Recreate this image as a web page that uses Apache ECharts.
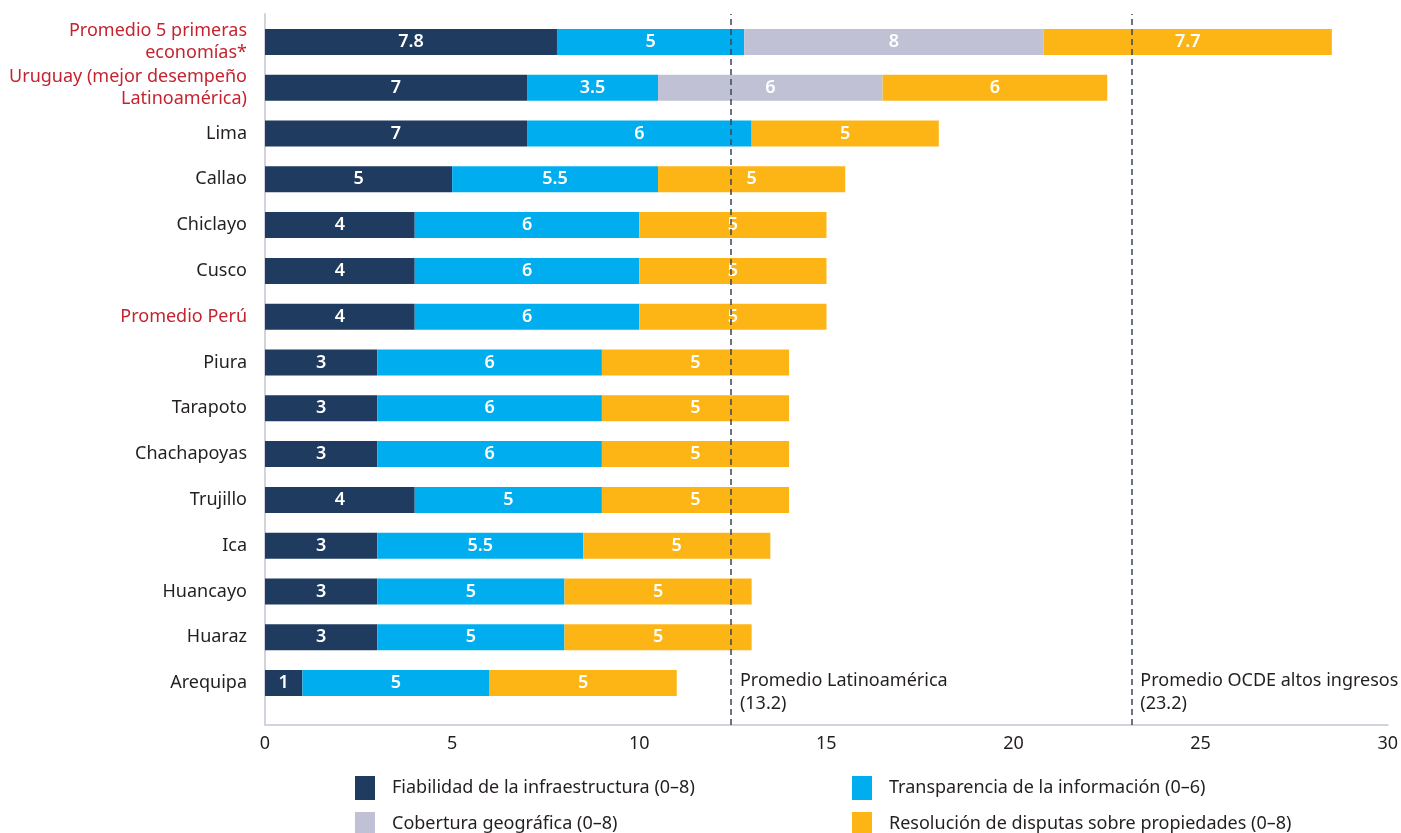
<!DOCTYPE html>
<html lang="es">
<head>
    <meta charset="UTF-8">
    <title>Registro de propiedades</title>
    <script src="https://cdn.jsdelivr.net/npm/echarts@6/dist/echarts.min.js"></script>
</head>
<style type="text/css">
    html,body,#chart{
        width: 100%;
        height: 100%;
        margin: 0;
        padding: 0;
        background: #fff;
    }
</style>
<body>
<div id="chart"></div>
<script>
    // categorias (de arriba hacia abajo)
    var cities = ['Promedio 5 primeras\neconomías*', 'Uruguay (mejor desempeño\nLatinoamérica)', 'Lima', 'Callao',
        'Chiclayo', 'Cusco', 'Promedio Perú', 'Piura', 'Tarapoto', 'Chachapoyas', 'Trujillo', 'Ica',
        'Huancayo', 'Huaraz', 'Arequipa'];
    var redCities = ['Promedio 5 primeras\neconomías*', 'Uruguay (mejor desempeño\nLatinoamérica)', 'Promedio Perú'];

    var fiabilidad   = [7.8, 7, 7, 5, 4, 4, 4, 3, 3, 3, 4, 3, 3, 3, 1];
    var transparencia = [5, 3.5, 6, 5.5, 6, 6, 6, 6, 6, 6, 5, 5.5, 5, 5, 5];
    var cobertura    = [8, 6, null, null, null, null, null, null, null, null, null, null, null, null, null];
    var resolucion   = [7.7, 6, 5, 5, 5, 5, 5, 5, 5, 5, 5, 5, 5, 5, 5];

    var seriesNames = ['Fiabilidad de la infraestructura (0–8)', 'Transparencia de la información (0–6)',
        'Cobertura geográfica (0–8)', 'Resolución de disputas sobre propiedades (0–8)'];
    var colors = ['#1f3b5f', '#00aeef', '#c1c1d5', '#fdb516'];

    // lineas de referencia
    var refPos = [12.45, 23.15];
    var refLabels = ['Promedio Latinoamérica\n(13.2)', 'Promedio OCDE altos ingresos\n(23.2)'];

    var xTicks = [0, 5, 10, 15, 20, 25, 30];

    var font = 'Noto Sans';
    var txt = '#231f20';
    var myChart = echarts.init(document.getElementById('chart'));

    var values = [fiabilidad, transparencia, cobertura, resolucion];
    var series = [];
    for (var i = 0; i < values.length; i++) {
        series.push({
            name: seriesNames[i],
            type: 'bar',
            stack: 'total',
            xAxisIndex: 0,
            yAxisIndex: 0,
            barWidth: 26,
            itemStyle: { color: colors[i] },
            label: {
                show: true,
                position: 'inside',
                color: '#fff',
                fontSize: 18,
                fontWeight: 600,
                fontFamily: font
            },
            data: values[i]
        });
    }
    series.push({
        type: 'scatter',
        xAxisIndex: 1,
        yAxisIndex: 1,
        symbolSize: 0,
        z: 10,
        silent: true,
        itemStyle: { opacity: 1 },
        label: {
            show: true,
            position: 'right',
            distance: 9,
            color: txt,
            fontSize: 18,
            lineHeight: 23,
            fontFamily: font,
            formatter: function (p) { return refLabels[p.dataIndex]; }
        },
        markLine: {
            symbol: 'none',
            silent: true,
            label: { show: false },
            lineStyle: { color: '#3b4556', type: [6, 4], width: 1.5 },
            data: refPos.map(function (v) { return { xAxis: v }; })
        },
        data: refPos.map(function (v) { return [v, 4.6]; })
    });

    var legends = [];
    var legendPos = [[355, 776], [852, 776], [355, 812], [852, 812]];
    for (var k = 0; k < seriesNames.length; k++) {
        legends.push({
            data: [seriesNames[k]],
            left: legendPos[k][0],
            top: legendPos[k][1],
            padding: 0,
            itemWidth: 20,
            itemHeight: 24,
            icon: 'rect',
            selectedMode: false,
            textStyle: { color: txt, fontSize: 18, fontFamily: font, padding: [0, 0, 0, 12] }
        });
    }

    var options = {
        animation: false,
        textStyle: { fontFamily: font },
        legend: legends,
        grid: [
            { left: 265, right: 13, top: 19, bottom: 127 },
            { left: 265, right: 13, top: 14, bottom: 108 }
        ],
        xAxis: [{
            gridIndex: 0,
            type: 'value',
            min: 0,
            max: 30,
            show: false
        }, {
            gridIndex: 1,
            type: 'value',
            min: 0,
            max: 30,
            interval: 5,
            axisLine: { show: true, lineStyle: { color: '#d3d3e0', width: 2 } },
            axisTick: { show: false },
            splitLine: { show: false },
            axisLabel: {
                color: txt,
                fontSize: 18,
                margin: 10,
                formatter: function (v) { return xTicks.indexOf(v) >= 0 ? String(v) : ''; }
            }
        }],
        yAxis: [{
            gridIndex: 0,
            type: 'category',
            inverse: true,
            data: cities,
            axisLine: { show: false },
            axisTick: { show: false },
            axisLabel: {
                margin: 18,
                fontSize: 18,
                color: txt,
                lineHeight: 22,
                formatter: function (v) {
                    return redCities.indexOf(v) >= 0 ? '{r|' + v.split('\n').join('}\n{r|') + '}' : v;
                },
                rich: {
                    r: { color: '#c3242f', fontSize: 18, lineHeight: 22, fontFamily: font }
                }
            }
        }, {
            gridIndex: 1,
            type: 'value',
            min: 0,
            max: 100,
            axisLine: { show: true, lineStyle: { color: '#d3d3e0', width: 2 } },
            axisTick: { show: false },
            axisLabel: { show: false },
            splitLine: { show: false }
        }],
        series: series
    };
    myChart.setOption(options);
</script>
</body>
</html>
